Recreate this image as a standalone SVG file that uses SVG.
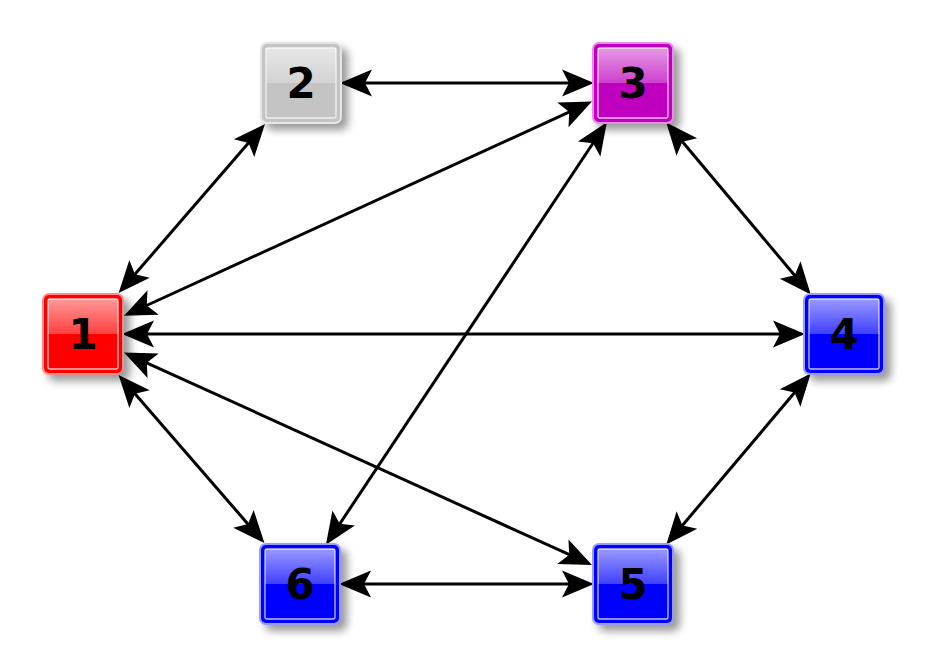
<svg xmlns="http://www.w3.org/2000/svg" width="928" height="667" viewBox="0 0 928 667">
<style>
.edge{stroke:#000;stroke-width:3;fill:none;marker-start:url(#ah);marker-end:url(#ah)}
.lbl{font-family:"DejaVu Sans",sans-serif;font-weight:bold;font-size:42px;text-anchor:middle;fill:#000}
.inner{fill:none;stroke:#fff;stroke-opacity:0.75;stroke-width:1.3}
.gloss{fill:url(#gl)}
.shadow{fill:#000;opacity:0.4;filter:url(#blur)}
</style>
<defs>
<marker id="ah" markerUnits="userSpaceOnUse" viewBox="-14 -15 36 30" markerWidth="36" markerHeight="30" refX="0" refY="0" orient="auto-start-reverse">
<path d="M20,0 L-12,-13.5 L-5,0 L-12,13.5 Z" fill="#000"/>
</marker>
<filter id="blur" x="-30%" y="-30%" width="160%" height="160%"><feGaussianBlur stdDeviation="4"/></filter>
<linearGradient id="gl" x1="0" y1="0" x2="0" y2="1">
<stop offset="0" stop-color="#fff" stop-opacity="0.6"/>
<stop offset="1" stop-color="#fff" stop-opacity="0.25"/>
</linearGradient>
</defs>
<g id="connectors">
<line class="edge" x1="360.0" y1="83" x2="574.0" y2="83"/>
<line class="edge" x1="142" y1="334" x2="785" y2="334"/>
<line class="edge" x1="359" y1="584" x2="574" y2="584"/>
<line class="edge" x1="131.7" y1="278.0" x2="251.9" y2="139.1"/>
<line class="edge" x1="142.2" y1="307.5" x2="573.8" y2="109.9"/>
<line class="edge" x1="142.2" y1="360.8" x2="573.8" y2="556.7"/>
<line class="edge" x1="131.7" y1="390.0" x2="251.3" y2="527.9"/>
<line class="edge" x1="595.8" y1="139.0" x2="337.0" y2="528.0"/>
<line class="edge" x1="679.1" y1="137.8" x2="797.9" y2="279.2"/>
<line class="edge" x1="797.8" y1="388.8" x2="679.2" y2="529.2"/>
</g>
<g id="node1">
<rect class="shadow" x="48" y="299" width="82" height="82" rx="7"/>
<rect x="42" y="293" width="82" height="82" rx="7" fill="#ff8c8c"/>
<rect x="44" y="295" width="78" height="78" rx="5" fill="#ff0000"/>
<rect class="gloss" x="48" y="299" width="70" height="35"/>
<rect class="inner" x="48" y="299" width="70" height="70" rx="2"/>
<text class="lbl" x="83" y="349">1</text>
</g>
<g id="node2">
<rect class="shadow" x="266" y="48" width="82" height="82" rx="7"/>
<rect x="260" y="42" width="82" height="82" rx="7" fill="#e6e6e6"/>
<rect x="262" y="44" width="78" height="78" rx="5" fill="#c4c4c4"/>
<rect class="gloss" x="266" y="48" width="70" height="35"/>
<rect class="inner" x="266" y="48" width="70" height="70" rx="2"/>
<text class="lbl" x="301" y="98">2</text>
</g>
<g id="node3">
<rect class="shadow" x="598" y="48" width="82" height="82" rx="7"/>
<rect x="592" y="42" width="82" height="82" rx="7" fill="#e88ce8"/>
<rect x="594" y="44" width="78" height="78" rx="5" fill="#bf00bf"/>
<rect class="gloss" x="598" y="48" width="70" height="35"/>
<rect class="inner" x="598" y="48" width="70" height="70" rx="2"/>
<text class="lbl" x="633" y="98">3</text>
</g>
<g id="node4">
<rect class="shadow" x="809" y="299" width="82" height="82" rx="7"/>
<rect x="803" y="293" width="82" height="82" rx="7" fill="#9a9aff"/>
<rect x="805" y="295" width="78" height="78" rx="5" fill="#0000ff"/>
<rect class="gloss" x="809" y="299" width="70" height="35"/>
<rect class="inner" x="809" y="299" width="70" height="70" rx="2"/>
<text class="lbl" x="844" y="349">4</text>
</g>
<g id="node5">
<rect class="shadow" x="598" y="549" width="82" height="82" rx="7"/>
<rect x="592" y="543" width="82" height="82" rx="7" fill="#9a9aff"/>
<rect x="594" y="545" width="78" height="78" rx="5" fill="#0000ff"/>
<rect class="gloss" x="598" y="549" width="70" height="35"/>
<rect class="inner" x="598" y="549" width="70" height="70" rx="2"/>
<text class="lbl" x="633" y="599">5</text>
</g>
<g id="node6">
<rect class="shadow" x="265" y="549" width="82" height="82" rx="7"/>
<rect x="259" y="543" width="82" height="82" rx="7" fill="#9a9aff"/>
<rect x="261" y="545" width="78" height="78" rx="5" fill="#0000ff"/>
<rect class="gloss" x="265" y="549" width="70" height="35"/>
<rect class="inner" x="265" y="549" width="70" height="70" rx="2"/>
<text class="lbl" x="300" y="599">6</text>
</g>
</svg>
